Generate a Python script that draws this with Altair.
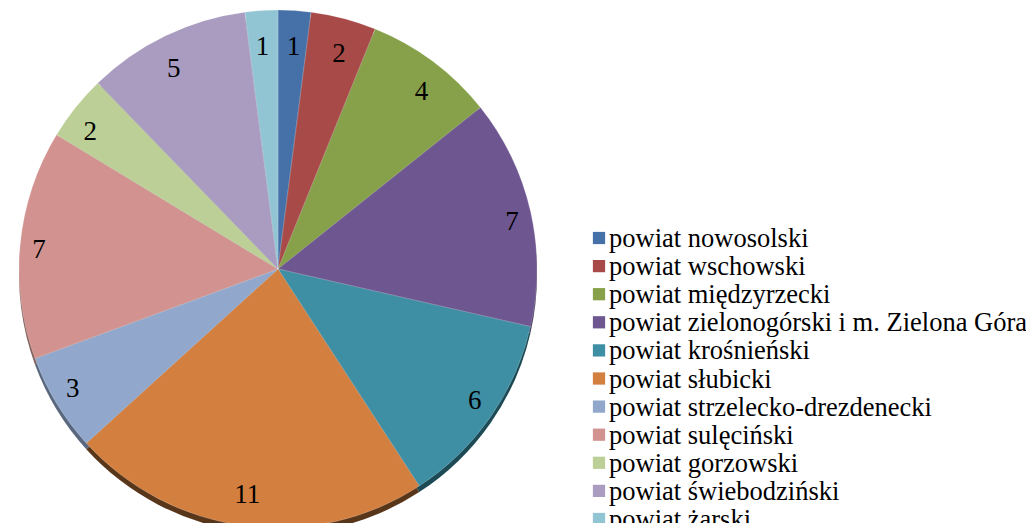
import altair as alt
import pandas as pd

categories = [
    "powiat nowosolski",
    "powiat wschowski",
    "powiat międzyrzecki",
    "powiat zielonogórski i m. Zielona Góra",
    "powiat krośnieński",
    "powiat słubicki",
    "powiat strzelecko-drezdenecki",
    "powiat sulęciński",
    "powiat gorzowski",
    "powiat świebodziński",
    "powiat żarski",
]
values = [1, 2, 4, 7, 6, 11, 3, 7, 2, 5, 1]

colors = ["#4571A8", "#A84A48", "#86A14A", "#6E5690", "#3E8FA4", "#D37F3F",
          "#91A8CC", "#D29390", "#BCCF96", "#A99CC0", "#92C5D4"]
shadow_colors = ["#2A4568", "#682E2C", "#53632E", "#443559", "#1D4A55", "#58361A",
                 "#5A687F", "#826059", "#75805D", "#696077", "#5A7A83"]

df = pd.DataFrame({
    "category": categories,
    "value": values,
    "idx": list(range(len(values))),
    "shadow": shadow_colors,
})

CX, CY, R = 270, 261, 259
LCY, LRX, LRY = 264, 240, 225   # label ellipse (the original is slightly tilted)
LEG_X, LEG_Y0, LEG_STEP = 591, 230, 28.1
FONT = "Liberation Serif"

base = alt.Chart(df)

theta = alt.Theta("value:Q", stack=True)
order = alt.Order("idx:Q")
color = alt.Color(
    "category:N",
    scale=alt.Scale(domain=categories, range=colors),
    legend=None,
)

shadow = base.mark_arc(outerRadius=R).encode(
    theta=theta,
    order=order,
    color=alt.Color("shadow:N", scale=None),
    x=alt.value(CX),
    y=alt.value(CY + 6),
)

pie = base.mark_arc(outerRadius=R, stroke="#ffffff", strokeWidth=0.4, strokeOpacity=0.5).encode(
    theta=theta,
    order=order,
    color=color,
    x=alt.value(CX),
    y=alt.value(CY),
)

labels = base.transform_joinaggregate(
    total="sum(value)"
).transform_window(
    cum="sum(value)", sort=[alt.SortField("idx")], frame=[None, 0]
).transform_calculate(
    mid="(datum.cum - datum.value / 2) / datum.total * 2 * PI",
).transform_calculate(
    lx=f"{CX} + {LRX} * sin(datum.mid)",
    ly=f"{LCY} - {LRY} * cos(datum.mid)",
).mark_text(
    font=FONT, fontSize=27, color="#000000", baseline="middle", align="center"
).encode(
    x=alt.X("lx:Q", scale=None, axis=None),
    y=alt.Y("ly:Q", scale=None, axis=None),
    text=alt.Text("value:Q"),
)

legend_base = base.transform_calculate(
    legy=f"{LEG_Y0} + datum.idx * {LEG_STEP}"
)
leg_sym = legend_base.mark_square(size=150, opacity=1).encode(
    y=alt.Y("legy:Q", scale=None, axis=None),
    x=alt.value(LEG_X),
    color=color,
)
leg_txt = legend_base.mark_text(
    align="left", baseline="middle", font=FONT, fontSize=26.5, color="#000000", dy=1
).encode(
    y=alt.Y("legy:Q", scale=None, axis=None),
    x=alt.value(LEG_X + 10),
    text="category:N",
)

chart = alt.layer(shadow, pie, labels, leg_sym, leg_txt).properties(
    width=1018, height=515, padding=0, autosize=alt.AutoSizeParams(type="none")
).configure_view(stroke=None)

chart.save("out.html", embed_options={"renderer": "svg", "actions": False})
